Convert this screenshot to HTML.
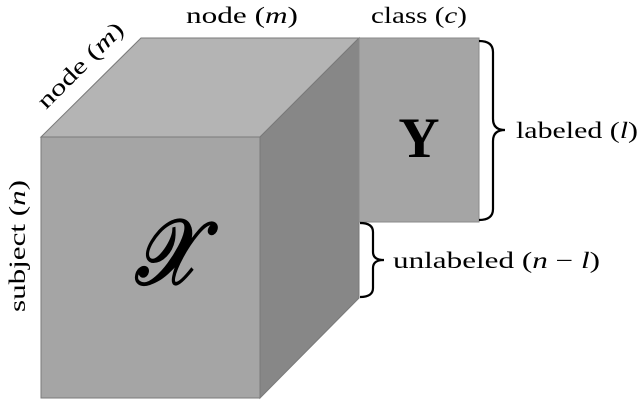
<!DOCTYPE html>
<html><head><style>
html,body{margin:0;padding:0;background:#fff;}
svg{display:block;}
text{font-family:"Liberation Serif","DejaVu Serif",serif;fill:#000;}
</style></head><body>
<svg width="640" height="400" viewBox="0 0 640 400" xmlns="http://www.w3.org/2000/svg">
<polygon points="41,137 141,38 359,38 260,137" fill="#b4b4b4" stroke="#7a7a7a" stroke-width="1"/>
<polygon points="260,137 359,38 359,298 260,398" fill="#878787" stroke="#7a7a7a" stroke-width="1"/>
<rect x="41" y="137" width="219" height="261" fill="#a5a5a5" stroke="#7a7a7a" stroke-width="1"/>
<rect x="359" y="38" width="120" height="184" fill="#a5a5a5" stroke="#8a8a8a" stroke-width="1"/>
<text x="419" y="157" font-size="57" font-weight="bold" text-anchor="middle">Y</text>
<text transform="translate(166,284) scale(0.8,1)" font-size="92" font-style="italic" text-anchor="middle" stroke="#000" stroke-width="2.5">𝒳</text>
<path d="M479,41 Q493,41 493,52 L493,119 Q493,130 505,130 Q493,130 493,141 L493,209 Q493,220 479,220" fill="none" stroke="#000" stroke-width="2.2"/>
<path d="M360,223 Q373,223 373,232 L373,252 Q373,260 384,260 Q373,260 373,268 L373,288 Q373,297 360,297" fill="none" stroke="#000" stroke-width="2.2"/>
<text x="186" y="23" font-size="23" textLength="112" lengthAdjust="spacingAndGlyphs">node (<tspan font-style="italic">m</tspan>)</text>
<text x="371" y="23" font-size="23" textLength="96" lengthAdjust="spacingAndGlyphs">class (<tspan font-style="italic">c</tspan>)</text>
<text x="516" y="138" font-size="23" textLength="122" lengthAdjust="spacingAndGlyphs">labeled (<tspan font-style="italic">l</tspan>)</text>
<text x="393" y="268" font-size="23" textLength="207" lengthAdjust="spacingAndGlyphs">unlabeled (<tspan font-style="italic">n</tspan> − <tspan font-style="italic">l</tspan>)</text>
<text transform="translate(25,312) rotate(-90)" font-size="23" textLength="132" lengthAdjust="spacingAndGlyphs">subject (<tspan font-style="italic">n</tspan>)</text>
<text transform="translate(46,110) rotate(-45)" font-size="23" textLength="112" lengthAdjust="spacingAndGlyphs">node (<tspan font-style="italic">m</tspan>)</text>
</svg>
</body></html>
